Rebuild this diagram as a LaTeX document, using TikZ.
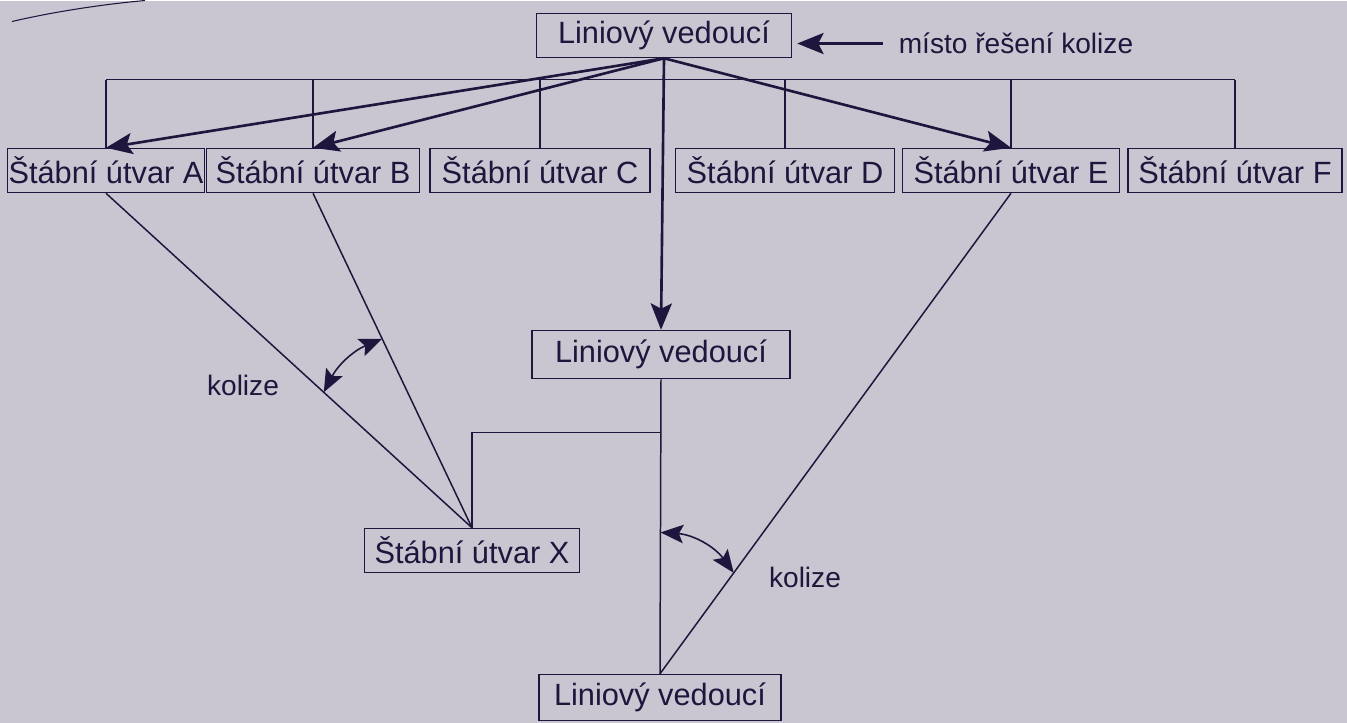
\documentclass[tikz,border=0pt]{standalone}
\usepackage{fontspec}
\setmainfont{Liberation Sans}
\usepackage{xcolor}
\definecolor{papir}{RGB}{201,198,209}
\definecolor{inkoust}{RGB}{30,22,60}
\usetikzlibrary{arrows,arrows.meta,shapes,calc,positioning}
\tikzstyle{spoj}  =[draw=inkoust, line width=0.85pt]
\tikzstyle{sipka} =[draw=inkoust, line width=1.5pt,
                    -{Stealth[length=15pt,width=12pt,inset=3pt]}]
\tikzstyle{oblouk}=[draw=inkoust, line width=0.9pt,
                    {Stealth[length=13pt,width=10.5pt,inset=2.5pt]}-{Stealth[length=13pt,width=10.5pt,inset=2.5pt]}]
\tikzstyle{utvar} =[rectangle, draw=inkoust, line width=0.85pt,
                    text=inkoust, minimum height=0.88cm, inner sep=0pt,
                    font=\fontsize{17.5}{20}\selectfont]
\tikzstyle{popis} =[text=inkoust, inner sep=0pt,
                    font=\fontsize{16}{19}\selectfont]

\begin{document}
\begin{tikzpicture}[x=0.02cm, y=-0.02cm]
    \fill[papir] (0,0) rectangle (1347,722);
    \draw[spoj, line width=0.6pt] (12,21) .. controls (50,12) and (100,4) .. (145,0);

            % linioví vedoucí
            \draw (664,35) node(lv1)[utvar, minimum width=5.1cm]{Liniový vedoucí};
            \draw (661,354) node(lv2)[utvar, minimum width=5.16cm,
                    minimum height=0.96cm]{Liniový vedoucí};
            \draw (660,697) node(lv3)[utvar, minimum width=4.84cm,
                    minimum height=0.92cm]{Liniový vedoucí};
            \draw (1016,43) node(misto)[popis]{místo řešení kolize};
            \draw[sipka, shorten <=0.3cm, shorten >=0.1cm] (misto.west) -- (misto.west -| lv1.east);

            % štábní útvary
            \foreach \n/\x/\w/\p in {ua/106/3.94cm/A, ub/313/4.26cm/B, uc/540/4.4cm/C,
                    ud/785/4.38cm/D, ue/1011/4.34cm/E, uf/1235/4.28cm/F}
                \draw (\x,170) node(\n)[utvar, minimum width=\w]{Štábní útvar \p};
            \draw (472,550) node(ux)[utvar, minimum width=4.3cm]{Štábní útvar X};

            \coordinate (sb) at (0,79);
            \foreach \n in {ua,ub,uc,ud,ue,uf}
                \draw[spoj] (\n.north) -- (\n.north |- sb);
            \draw[spoj] (ua.north |- sb) -- (uf.north |- sb);

            \foreach \n in {ua,ub,ue}
                \draw[sipka] (lv1.south) -- (\n.north);
            \draw[sipka] (lv1.south) -- (lv2.north);

            \draw[spoj] (lv2.south) -- (lv3.north);
            \draw[spoj] (ux.north) |- ($(lv2.south)!0.18!(lv3.north)$);
            \foreach \n in {ua,ub}
                \draw[spoj] (\n.south) -- (ux.north);
            \draw[spoj] (ue.south) -- (lv3.north);

            % kolize
            \path (ux.north) -- (ua.south) coordinate[pos=0.405] (k1);
            \path (ux.north) -- (ub.south) coordinate[pos=0.565] (k2);
            \draw[oblouk] (k1) to[bend left=20] (k2);
            \draw (243,385) node(kol1)[popis]{kolize};

            \path (lv3.north) -- (lv2.south) coordinate[pos=0.48] (k3);
            \path (lv3.north) -- (ue.south) coordinate[pos=0.21] (k4);
            \draw[oblouk] (k3) to[bend left=25] (k4);
            \draw (805,577) node(kol2)[popis]{kolize};

    \end{tikzpicture}
\end{document}
